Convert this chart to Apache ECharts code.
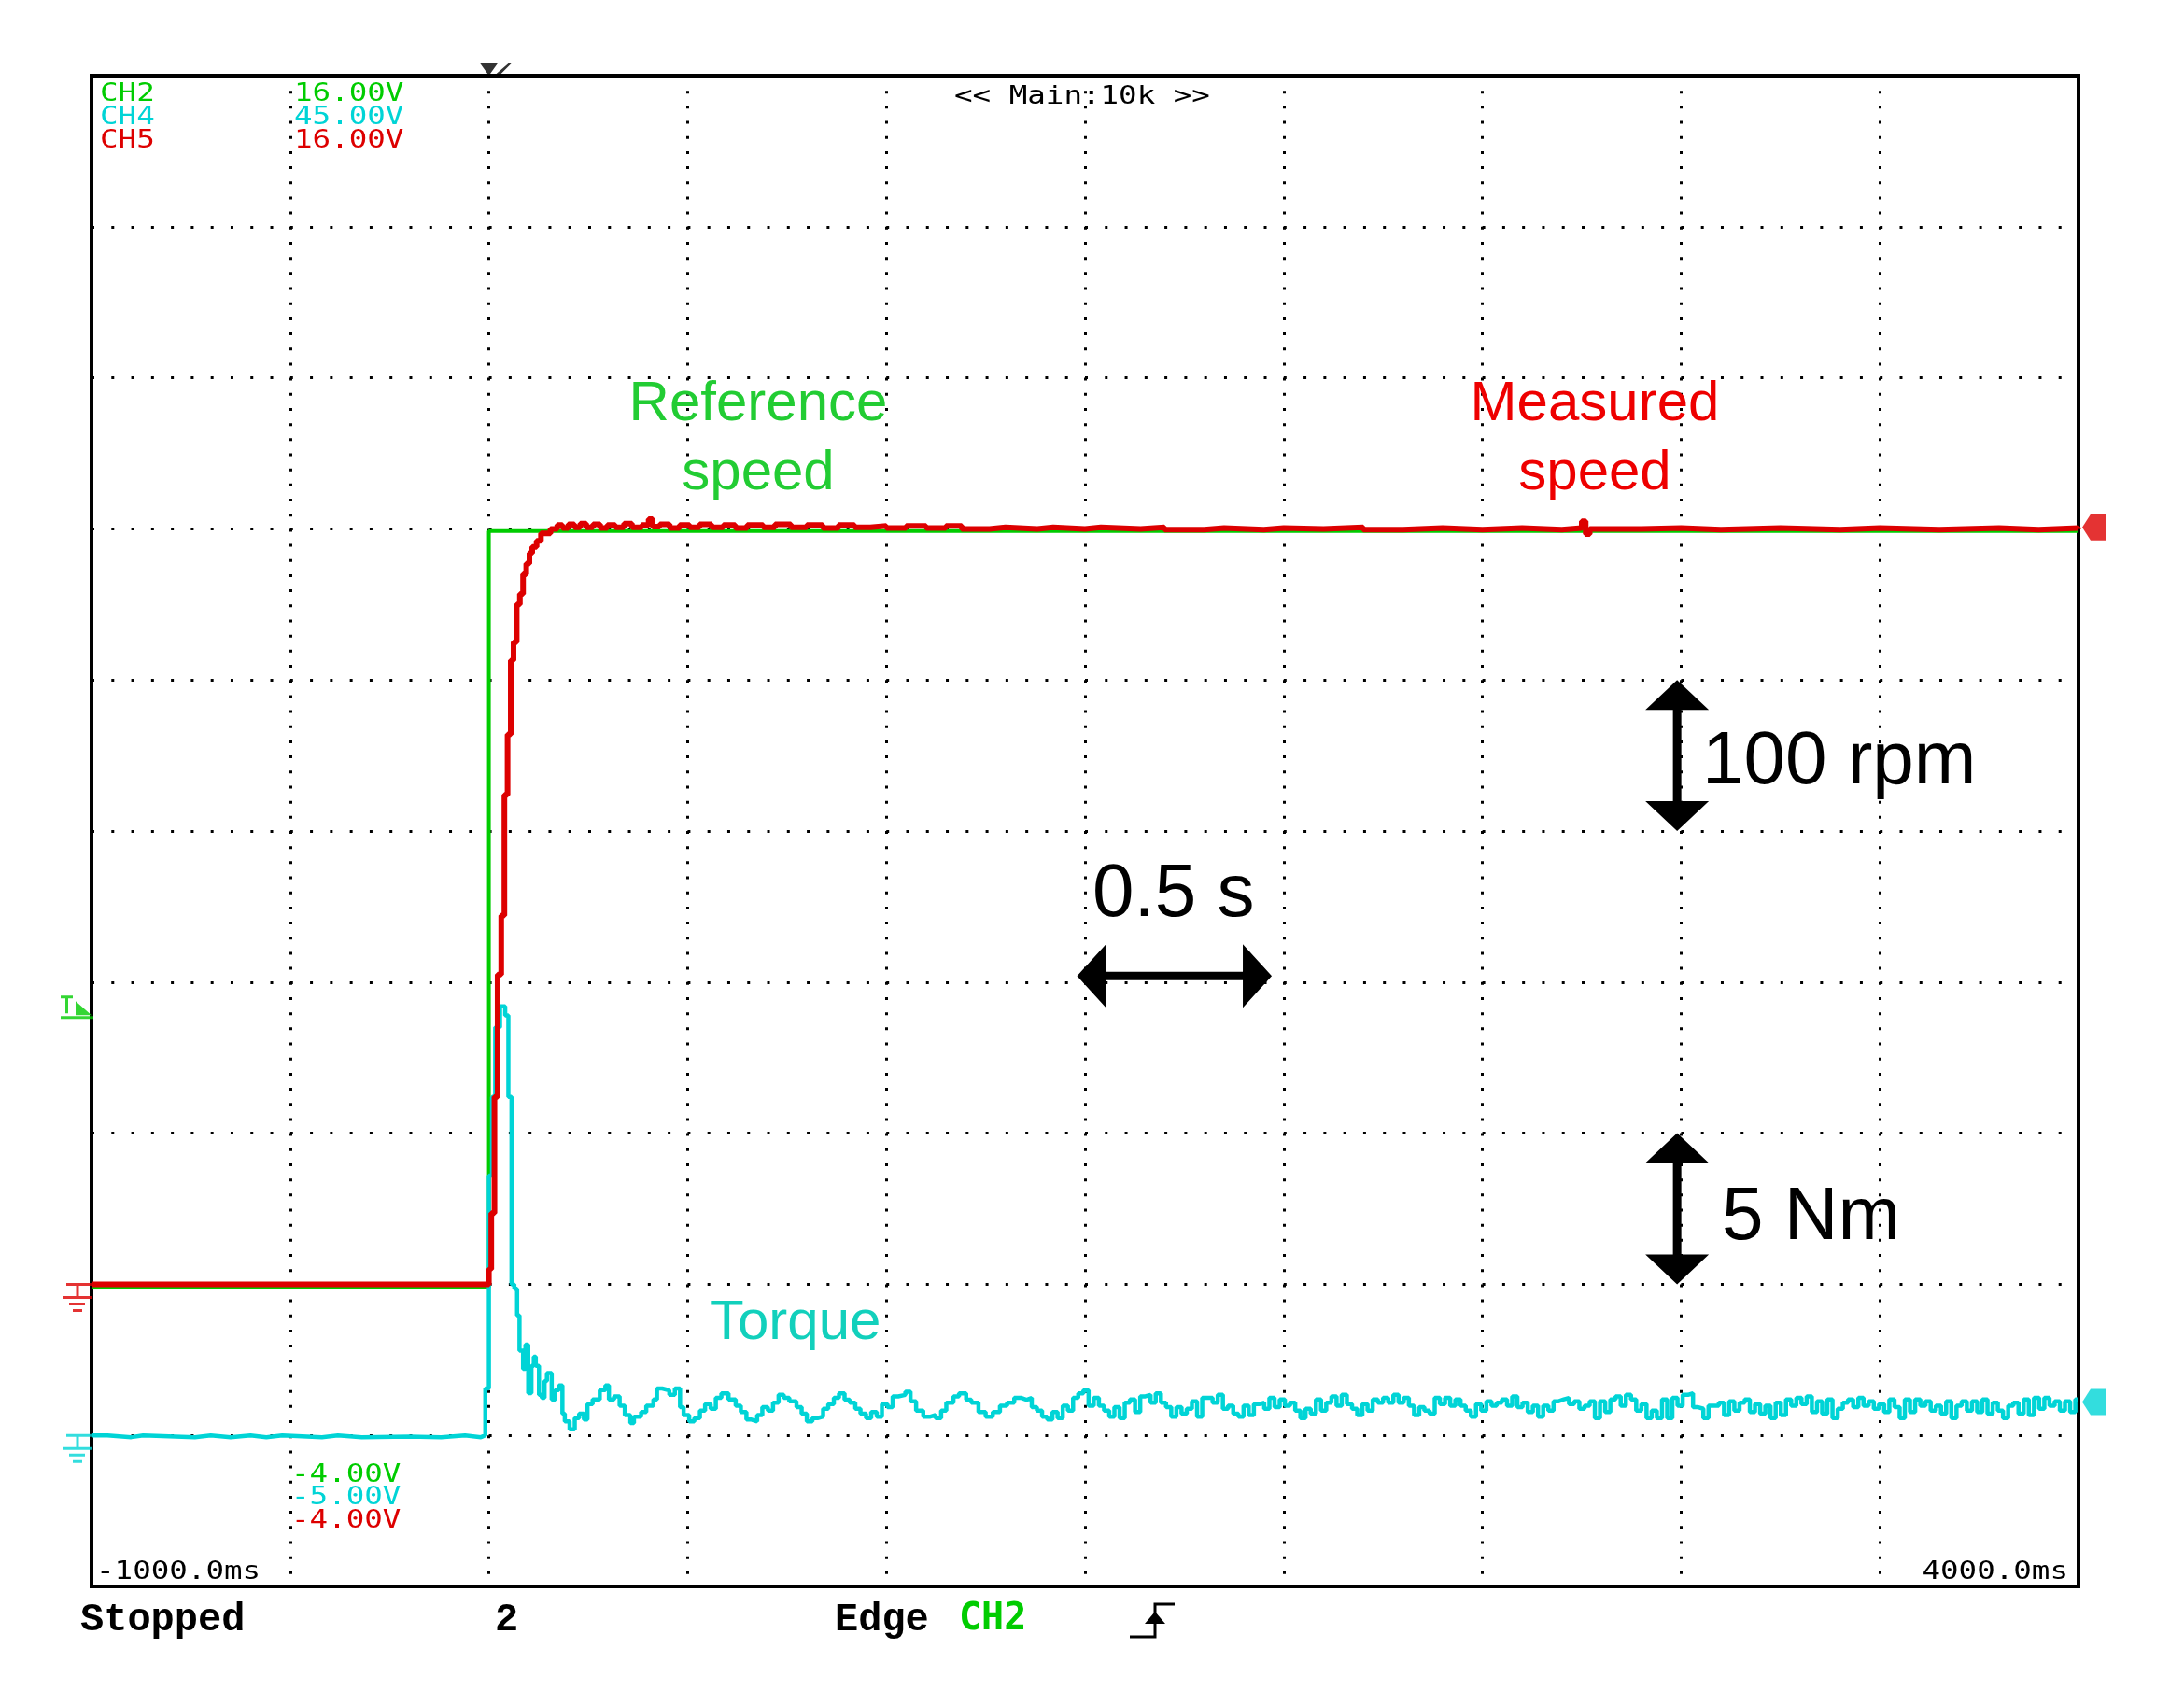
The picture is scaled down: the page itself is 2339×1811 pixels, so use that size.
<!DOCTYPE html>
<html>
<head>
<meta charset="utf-8">
<script src="https://cdn.jsdelivr.net/npm/echarts@6/dist/echarts.min.js"></script>
<style>
  html, body { margin: 0; background: #fff; }
  #chart { width: 2339px; height: 1811px; }
</style>
</head>
<body>
<div id="chart"></div>
<script>
// scope channels (CH2 = reference speed, CH4 = torque, CH5 = measured speed)
const channelNames = ['CH2', 'CH4', 'CH5'];
const channelTopLabels = ['16.00V', '45.00V', '16.00V'];
const channelBottomLabels = ['-4.00V', '-5.00V', '-4.00V'];
const channelMin = [-4, -5, -4];
const channelMax = [16, 45, 16];
const channelDiv = [2, 5, 2];
const timeLabels = ['-1000.0ms', '4000.0ms'];
const timeRange = [-1000, 4000];

// reference speed, CH2 [ms, V]
const refSpeed = [[-1000, -0.04], [0, -0.04], [0, 9.97], [4000, 9.97]];

// measured speed, CH5 [ms, V] (held until next point)
const measSpeed = [
  [-1000, 0], [0, 0.2], [6, 0.94], [14, 2.48], [22, 4.1], [31, 4.88], [39, 6.48], [47, 7.28],
  [55, 8.26], [62, 8.5], [70, 9.0], [78, 9.14], [86, 9.4], [94, 9.54], [102, 9.68], [109, 9.76],
  [120, 9.84], [131, 9.94], [155, 10.0], [172, 10.05], [185, 10.01], [200, 10.06], [215, 10.02],
  [230, 10.07], [245, 10.02], [262, 10.06], [280, 10.01], [298, 10.05], [318, 10.02], [340, 10.07],
  [360, 10.02], [385, 10.05], [402, 10.13], [412, 10.03], [430, 10.06], [455, 10.01], [480, 10.05],
  [505, 10.02], [530, 10.06], [560, 10.02], [590, 10.05], [620, 10.01], [650, 10.05], [690, 10.02],
  [720, 10.06], [760, 10.02], [800, 10.05], [840, 10.01], [880, 10.05], [920, 10.02], [960, 10.04],
  [1000, 10.01], [1050, 10.04], [1100, 10.01], [1150, 10.04], [1190, 10.0], [1260, 10.02], [1300, 10.0],
  [1380, 10.02], [1420, 10.0], [1500, 10.02], [1540, 10.0], [1640, 10.02], [1700, 9.99], [1800, 10.01],
  [1850, 9.99], [1950, 10.01], [2000, 10.0], [2100, 10.02], [2200, 9.99], [2300, 10.01], [2400, 9.99],
  [2500, 10.01], [2600, 9.99], [2700, 10.01], [2750, 10.1], [2760, 9.93], [2770, 10.0], [2900, 10.01],
  [3000, 9.99], [3100, 10.01], [3250, 9.99], [3400, 10.01], [3500, 9.99], [3650, 10.01], [3800, 9.99],
  [3900, 10.01], [4000, 10.0]
];

// torque, CH4 [ms, V] up to 1340 ms
const torqueStep = [
  [-1000, 0], [-960, -0.06], [-900, 0], [-870, -0.06], [-740, 0], [-700, -0.06], [-650, 0],
  [-600, -0.06], [-560, 0], [-520, -0.06], [-420, 0], [-380, -0.06], [-320, -0.04], [-200, -0.06],
  [-120, 0], [-60, -0.06], [-20, 0],
  [-9, 1.55], [0, 8.6], [8, 11.2], [16, 13.5], [28, 14.2], [41, 13.9], [49, 11.2], [57, 5.0],
  [64, 4.85], [71, 3.97], [77, 2.8], [86, 2.2], [92, 3.0], [99, 1.4], [107, 2.3], [113, 2.6],
  [118, 2.3], [126, 1.34], [133, 1.24], [140, 1.8], [146, 2.06], [158, 1.19], [167, 1.5], [176, 1.65],
  [185, 0.72], [191, 0.46], [203, 0.2], [216, 0.57], [227, 0.72], [239, 0.52], [248, 1.03],
  [261, 1.19], [279, 1.5], [293, 1.65], [302, 1.19], [315, 1.29], [329, 0.98], [342, 0.67],
  [356, 0.41], [365, 0.62], [383, 0.77], [396, 0.98], [414, 1.19], [423, 1.55], [436, 1.49],
  [454, 1.34], [468, 1.55], [481, 0.93], [490, 0.67], [504, 0.46], [517, 0.57], [531, 0.82],
  [544, 1.03], [558, 0.88], [571, 1.24], [585, 1.39], [603, 1.19], [621, 0.98], [634, 0.77],
  [648, 0.52], [661, 0.46], [675, 0.67], [688, 0.93], [702, 0.82], [715, 1.08], [729, 1.34],
  [742, 1.24], [756, 1.13], [774, 0.93], [787, 0.72], [800, 0.46], [814, 0.57], [827, 0.62],
  [841, 0.88], [854, 1.03], [868, 1.24], [881, 1.39], [895, 1.18], [908, 1.08], [922, 0.88],
  [935, 0.72], [949, 0.57], [962, 0.77], [976, 0.62], [989, 1.03], [1003, 0.93], [1016, 1.29],
  [1030, 1.34], [1048, 1.44], [1061, 1.13], [1075, 0.82], [1093, 0.62], [1111, 0.67], [1124, 0.57],
  [1138, 0.82], [1151, 1.08], [1169, 1.29], [1183, 1.39], [1201, 1.18], [1214, 1.08], [1232, 0.77],
  [1250, 0.62], [1268, 0.77], [1286, 0.98], [1304, 1.08], [1322, 1.24], [1340, 1.18]
];

// torque tail, CH4 volts sampled every 13 ms from 1353 ms
const tailStartMs = 1353;
const tailStepMs = 13;
const torqueTail = [
  1.24, 0.93, 0.82, 0.62, 0.52, 0.77, 0.57, 0.98, 0.82, 1.24,
  1.39, 1.49, 0.98, 1.24, 0.98, 0.82, 0.62, 0.93, 0.57, 1.08,
  1.19, 0.77, 1.29, 1.34, 1.08, 1.39, 1.08, 0.93, 0.62, 0.93,
  0.72, 0.88, 1.13, 0.62, 1.24, 1.24, 1.08, 1.34, 0.88, 0.98,
  0.72, 0.62, 0.98, 0.67, 1.03, 1.08, 0.88, 1.24, 0.93, 1.19,
  0.98, 1.08, 0.82, 0.57, 0.88, 0.72, 1.19, 0.82, 1.08, 1.29,
  0.98, 1.34, 1.03, 0.88, 0.67, 1.03, 0.82, 1.19, 1.08, 1.24,
  1.08, 1.34, 1.08, 1.24, 0.98, 0.67, 0.93, 0.82, 0.72, 1.24,
  1.03, 1.24, 0.98, 1.19, 0.98, 0.82, 0.62, 1.03, 0.82, 1.13,
  0.98, 1.08, 1.19, 0.98, 1.29, 0.93, 1.08, 0.77, 0.98, 0.62,
  0.98, 0.82, 1.13, 1.19, 1.24, 1.03, 1.13, 0.88, 0.98,
  1.13, 0.57, 1.13, 0.77, 1.19, 1.29, 0.98, 1.34, 1.19, 0.82,
  1.03, 0.57, 0.82, 0.57, 1.19, 0.57, 1.24, 0.98, 1.34, 1.39,
  0.93, 0.88, 0.57, 0.98, 0.98, 1.08, 0.67, 1.13, 0.82, 1.08,
  1.19, 0.77, 1.03, 0.72, 0.98, 0.57, 1.08, 0.67, 1.19, 0.98,
  1.24, 1.03, 1.29, 0.77, 1.13, 0.72, 1.19, 0.57, 0.88, 1.08,
  1.19, 0.93, 1.24, 0.98, 1.13, 0.88, 1.03, 0.77, 1.19, 0.93,
  0.57, 1.19, 0.77, 1.19, 0.98, 1.13, 0.82, 0.98, 0.72, 1.13,
  0.57, 0.98, 1.13, 0.82, 1.13, 0.77, 1.19, 0.72, 1.08, 0.82,
  0.57, 0.98, 1.08, 0.72, 1.19, 0.67, 1.24, 0.88, 1.24, 0.98,
  1.13, 0.82, 1.13, 0.77, 1.19
];

// trigger level (CH2 V) and end-of-trace markers
const triggerLevel = 3.53;
const speedEndLevel = 10.02;
const torqueEndLevel = 1.1;

const GREEN = '#00cc00', CYAN = '#00d4d6', RED = '#dd0000';
const chColors = [GREEN, CYAN, RED];

const torqueData = torqueStep
  .concat(torqueTail.map((v, i) => [tailStartMs + i * tailStepMs, v]))
  .concat([[timeRange[1], torqueTail[torqueTail.length - 1]]]);

const groundPath = 'path://M3 0H30V3H3Z M13.5 0H16.5V15H13.5Z M0 14H30V17H0Z M6 21H23V24H6Z M10 28H20V31H10Z';
const trigPath = 'path://M0 0H13V3H0Z M5 0H8V19H5Z M16 6L33 21H16Z M0 22H35V25H0Z';
const endPath = 'path://M0 14L9 0H25V28H9Z';
const topTrigPath = 'path://M0 0H20L10 14Z M18 12L32 0H35L21 14Z';

function marker(yAxisIndex, point, symbol, size, offset, color) {
  return {
    type: 'scatter', yAxisIndex, data: [point], symbol, symbolSize: size,
    symbolOffset: offset, clip: false, silent: true, z: 20,
    itemStyle: { color }
  };
}

const chart = echarts.init(document.getElementById('chart'));

const option = {
  animation: false,
  backgroundColor: '#fff',
  grid: {
    left: 98, top: 81, width: 2128, height: 1618,
    show: true, borderColor: '#000', borderWidth: 4, backgroundColor: 'transparent'
  },
  xAxis: {
    type: 'value', min: timeRange[0], max: timeRange[1], interval: 500,
    axisLine: { show: false }, axisTick: { show: false }, axisLabel: { show: false },
    splitLine: { show: true, lineStyle: { color: '#000', width: 3, type: [3, 13.18] } }
  },
  yAxis: channelNames.map((name, i) => ({
    type: 'value', min: channelMin[i], max: channelMax[i], interval: channelDiv[i],
    axisLine: { show: false }, axisTick: { show: false }, axisLabel: { show: false },
    splitLine: { show: i === 0, lineStyle: { color: '#000', width: 3, type: [3, 18.28] } }
  })),
  series: [
    {
      name: 'Reference speed', type: 'line', yAxisIndex: 0, data: refSpeed,
      showSymbol: false, lineStyle: { color: GREEN, width: 4 }, z: 3
    },
    {
      name: 'Torque', type: 'line', yAxisIndex: 1, data: torqueData, step: 'end',
      showSymbol: false, lineStyle: { color: CYAN, width: 4.5 }, z: 4
    },
    {
      name: 'Measured speed', type: 'line', yAxisIndex: 2, data: measSpeed, step: 'end',
      showSymbol: false, lineStyle: { color: RED, width: 6 }, z: 5
    },
    marker(1, [timeRange[0], 0], groundPath, [30, 31], [-15, 14], CYAN),
    marker(2, [timeRange[0], 0], groundPath, [30, 31], [-15, 14], RED),
    marker(0, [timeRange[0], triggerLevel], trigPath, [35, 25], [-15.5, -11], GREEN),
    marker(0, [0, channelMax[0]], topTrigPath, [35, 14], [7.5, -7], '#000'),
    marker(2, [timeRange[1], speedEndLevel], endPath, [25, 28], [16.5, 0], RED),
    marker(1, [timeRange[1], torqueEndLevel], endPath, [25, 28], [16.5, 0], CYAN)
  ]
};

chart.setOption(option);

function txt(text, x, y, font, fill, align, scaleX) {
  return {
    type: 'text', x, y, scaleX: scaleX || 1, z: 100, silent: true,
    style: { text, font, fill, align: align || 'left', textAlign: align || 'left',
             verticalAlign: 'middle', textVerticalAlign: 'middle' }
  };
}

function vArrow(x, yTop, yBot) {
  const hw = 34, hh = 32, sw = 4.5;
  return {
    type: 'polygon', z: 100, silent: true, style: { fill: '#000' },
    shape: { points: [[x, yTop], [x + hw, yTop + hh], [x + sw, yTop + hh], [x + sw, yBot - hh],
      [x + hw, yBot - hh], [x, yBot], [x - hw, yBot - hh], [x - sw, yBot - hh], [x - sw, yTop + hh],
      [x - hw, yTop + hh]] }
  };
}

function hArrow(xL, xR, y) {
  const hw = 34, hl = 31, sw = 4.5;
  return {
    type: 'polygon', z: 100, silent: true, style: { fill: '#000' },
    shape: { points: [[xL, y], [xL + hl, y - hw], [xL + hl, y - sw], [xR - hl, y - sw],
      [xR - hl, y - hw], [xR, y], [xR - hl, y + hw], [xR - hl, y + sw], [xL + hl, y + sw],
      [xL + hl, y + hw]] }
  };
}

const toPx = (axis, p) => chart.convertToPixel({ xAxisIndex: 0, yAxisIndex: axis }, p);

const rpmTop = toPx(2, [2990, 8]), rpmBot = toPx(2, [2990, 6]);
const nmTop = toPx(1, [2990, 10]), nmBot = toPx(1, [2990, 5]);
const sL = toPx(0, [1480, 4.08]), sR = toPx(0, [1970, 4.08]);

const MONO = '26px "DejaVu Sans Mono"';
const STAT = 'bold 42px "Liberation Mono"';
const SANS80 = '80px "Liberation Sans"';
const SANS60 = '60px "Liberation Sans"';

const graphics = [];
channelNames.forEach((n, i) => {
  graphics.push(txt(n, 107, 101 + i * 25, MONO, chColors[i], 'left', 1.25));
  graphics.push(txt(channelTopLabels[i], 315, 101 + i * 25, MONO, chColors[i], 'left', 1.25));
  graphics.push(txt(channelBottomLabels[i], 312, 1580 + i * 24.5, MONO, chColors[i], 'left', 1.25));
});
graphics.push(txt('<< Main:10k >>', 1022, 104, MONO, '#000', 'left', 1.25));
graphics.push(txt(timeLabels[0], 103, 1684, MONO, '#000', 'left', 1.25));
graphics.push(txt(timeLabels[1], 2215, 1684, MONO, '#000', 'right', 1.25));

graphics.push(txt('Stopped', 86, 1735, STAT, '#000'));
graphics.push(txt('2', 530, 1735, STAT, '#000'));
graphics.push(txt('Edge', 894, 1735, STAT, '#000'));
graphics.push(txt('CH2', 1027, 1735, 'bold 40px "DejaVu Sans Mono"', GREEN));
graphics.push({
  type: 'polyline', z: 100, silent: true,
  shape: { points: [[1210, 1753], [1237, 1753], [1237, 1718], [1258, 1718]] },
  style: { stroke: '#000', lineWidth: 3, fill: null }
});
graphics.push({
  type: 'polygon', z: 100, silent: true,
  shape: { points: [[1226, 1739], [1248, 1739], [1237, 1726]] },
  style: { fill: '#000' }
});

graphics.push(txt('Reference', 812, 433, SANS60, '#22cc33', 'center'));
graphics.push(txt('speed', 812, 507, SANS60, '#22cc33', 'center'));
graphics.push(txt('Measured', 1708, 433, SANS60, '#ee0000', 'center'));
graphics.push(txt('speed', 1708, 507, SANS60, '#ee0000', 'center'));
graphics.push(txt('Torque', 760, 1417, SANS60, '#12d0bc', 'left'));

graphics.push(txt('100 rpm', 1823, 817, SANS80, '#000'));
graphics.push(txt('0.5 s', 1170, 959, SANS80, '#000'));
graphics.push(txt('5 Nm', 1844, 1305, SANS80, '#000'));

graphics.push(vArrow(rpmTop[0], rpmTop[1], rpmBot[1]));
graphics.push(vArrow(nmTop[0], nmTop[1], nmBot[1]));
graphics.push(hArrow(sL[0], sR[0], sL[1]));

chart.setOption({ graphic: graphics });
</script>
</body>
</html>
